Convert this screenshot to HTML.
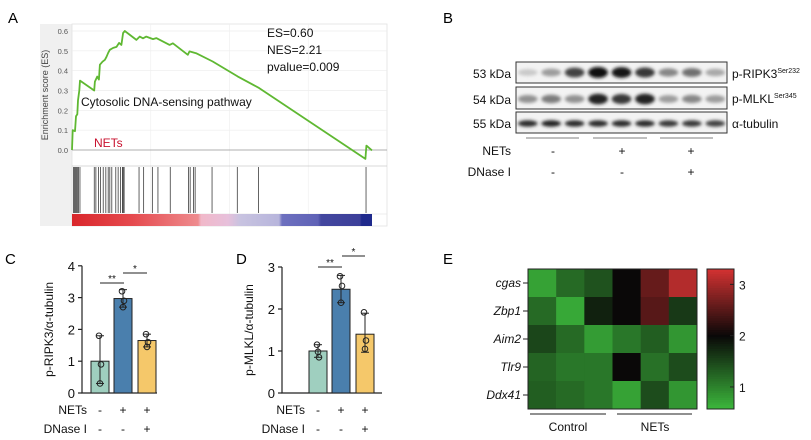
<!DOCTYPE html>
<html><head><meta charset="utf-8"><style>
html,body{margin:0;padding:0;background:#fff;width:811px;height:440px;overflow:hidden}
text{font-family:"Liberation Sans",Arial,sans-serif}
</style></head><body>
<svg id="fig" width="811" height="440" viewBox="0 0 811 440" xmlns="http://www.w3.org/2000/svg">
<defs>
<filter id="blur" x="-30%" y="-80%" width="160%" height="260%"><feGaussianBlur stdDeviation="1.6"/></filter>
<linearGradient id="rankGrad" x1="0" x2="1" y1="0" y2="0">
<stop offset="0" stop-color="#d9262b"/><stop offset="0.2" stop-color="#e54a4e"/><stop offset="0.42" stop-color="#ee8b8e"/>
<stop offset="0.43" stop-color="#f1b8c9"/><stop offset="0.52" stop-color="#e7c0db"/><stop offset="0.56" stop-color="#c8c3e0"/>
<stop offset="0.69" stop-color="#b7b5dc"/><stop offset="0.70" stop-color="#6d70bf"/><stop offset="0.82" stop-color="#5f62b6"/>
<stop offset="0.83" stop-color="#43479f"/><stop offset="0.96" stop-color="#3c3f99"/><stop offset="0.965" stop-color="#1f2a8c"/><stop offset="1" stop-color="#1f2a8c"/>
</linearGradient>
</defs>
<g id="panelA"></g>
<g id="panelB"></g>
<g id="panelC"></g>
<g id="panelD"></g>
<g id="panelE"></g>
</svg>
<script>
// ---- Panel A data ----
const esRank=[0,2,9,12,16,18,22,24,67,69,76,81,84,92,99,104,109,114,124,134,142,149,154,159,194,204,214,224,244,254,294,304,349,354,374,424,499,564,884,887,904];
const esValues=[0,0.10,0.095,0.17,0.18,0.25,0.30,0.35,0.30,0.345,0.37,0.355,0.43,0.445,0.455,0.47,0.49,0.505,0.515,0.52,0.54,0.53,0.59,0.60,0.555,0.572,0.563,0.572,0.559,0.564,0.53,0.538,0.48,0.497,0.488,0.446,0.371,0.312,-0.045,0.022,-0.002];
const hitRanks=[4,7,10,13,16,20,24,67,72,80,86,94,102,109,114,120,132,139,146,152,154,157,202,216,242,259,296,351,356,366,371,422,498,562,886];
const esTicks=[0,0.1,0.2,0.3,0.4,0.5,0.6];
// ---- Panel B data ----
const blotRows=["p-RIPK3","p-MLKL","α-tubulin"];
const blotIntensity=[[0.15,0.35,0.75,1.0,0.95,0.8,0.45,0.55,0.3],[0.4,0.5,0.4,0.9,0.8,0.9,0.35,0.45,0.35],[0.85,0.9,0.85,0.85,0.85,0.85,0.8,0.8,0.75]];
// ---- Panel C data ----
const cMeans=[1.0,2.97,1.65];
const cPoints=[[1.8,0.9,0.3],[3.2,2.9,2.7],[1.85,1.6,1.45]];
const cErrLo=[0.3,2.7,1.45];
const cErrHi=[1.8,3.25,1.85];
const cTicks=[0,1,2,3,4];
// ---- Panel D data ----
const dMeans=[1.0,2.47,1.4];
const dPoints=[[1.15,0.85,0.98],[2.78,2.55,2.15],[1.92,1.25,1.05]];
const dErrLo=[0.85,2.15,0.97];
const dErrHi=[1.15,2.8,1.9];
const dTicks=[0,1,2,3];
// ---- Panel E data ----
const genes=["cgas","Zbp1","Aim2","Tlr9","Ddx41"];
const heatValues=[[0.75,1.2,1.4,2.0,2.6,3.1],[1.2,0.7,1.8,2.0,2.5,1.6],[1.5,1.2,0.8,1.1,1.3,0.85],[1.25,1.1,1.1,2.0,1.15,1.45],[1.3,1.2,1.1,0.75,1.45,0.85]];
const scaleTicks=[1,2,3];

const NS="http://www.w3.org/2000/svg";
function mk(parent,tag,attrs,txt){const e=document.createElementNS(NS,tag);for(const k in attrs)e.setAttribute(k,attrs[k]);if(txt!==undefined)e.textContent=txt;parent.appendChild(e);return e;}
const svg=document.getElementById('fig');

// letters
[["A",8,23],["B",443,23],["C",5,264],["D",236,264],["E",443,264]].forEach(l=>{
 const t=mk(svg,'text',{x:l[1],y:l[2],'font-size':15,fill:'#000'},l[0]);
 
 
});

// ===== Panel A =====
(function(){
 const g=document.getElementById('panelA');
 const L=72,R=387,T=24,B=166,N=904,x1=372;
 const xs=r=>L+(x1-L)*r/N;
 const ys=v=>150-v*(119/0.6);
 mk(g,'rect',{x:40,y:T,width:32,height:202,fill:'#f0f0f0'});
 mk(g,'rect',{x:L,y:T,width:R-L,height:202,fill:'#fff',stroke:'#e2e2e2','stroke-width':0.8});
 // grid
 esTicks.forEach(v=>{mk(g,'line',{x1:L,x2:R,y1:ys(v),y2:ys(v),stroke:'#ececec','stroke-width':0.7});});
 [0.25,0.5,0.75].forEach(f=>mk(g,'line',{x1:L+(R-L)*f,x2:L+(R-L)*f,y1:T,y2:226,stroke:'#efefef','stroke-width':0.7}));
 mk(g,'line',{x1:L,x2:R,y1:ys(0),y2:ys(0),stroke:'#999','stroke-width':0.8});
 mk(g,'line',{x1:L,x2:R,y1:B,y2:B,stroke:'#ccc','stroke-width':0.8});
 mk(g,'line',{x1:L,x2:R,y1:214,y2:214,stroke:'#ddd','stroke-width':0.6});
 esTicks.forEach(v=>{
  const t=mk(g,'text',{x:68,y:ys(v)+3,'font-size':7.5,fill:'#555','text-anchor':'end'},v.toFixed(1));
  
 });
 const yt=mk(g,'text',{x:0,y:0,'font-size':9,fill:'#444','text-anchor':'middle',transform:'translate(48,95) rotate(-90)'},'Enrichment score (ES)');
 
 const pts=esRank.map((r,i)=>xs(r).toFixed(1)+','+ys(esValues[i]).toFixed(1)).join(' ');
 const pl=mk(g,'polyline',{points:pts,fill:'none',stroke:'#5fb832','stroke-width':1.8,'stroke-linejoin':'round'});
 
 hitRanks.forEach(r=>{
  const h=mk(g,'line',{x1:xs(r),x2:xs(r),y1:167,y2:213,stroke:'#222','stroke-width':0.7});
  
 });
 const cb=mk(g,'rect',{x:L,y:214,width:x1-L,height:12,fill:'url(#rankGrad)'});
 
 [['ES=0.60',41],['NES=2.21',58],['pvalue=0.009',75]].forEach(s=>{
  const t=mk(g,'text',{x:267,y:s[1]-4,'font-size':12,fill:'#111'},s[0]);
  
 });
 const pn=mk(g,'text',{x:81,y:106,'font-size':12,fill:'#111'},'Cytosolic DNA-sensing pathway');
 
 const nt=mk(g,'text',{x:94,y:147,'font-size':12,fill:'#c8102e'},'NETs');
 
})();

// ===== Panel B =====
(function(){
 const g=document.getElementById('panelB');
 const L=516,R=727;
 const rowsY=[[62,83],[87,109],[112,133]];
 const kda=["53 kDa","54 kDa","55 kDa"];
 const lw=(R-L)/9;
 rowsY.forEach((ry,ri)=>{
  const box=mk(g,'rect',{x:L,y:ry[0],width:R-L,height:ry[1]-ry[0],fill:'#f3f3f3',stroke:'#333','stroke-width':1});
  
  blotIntensity[ri].forEach((v,li)=>{
   const cx=L+lw*(li+0.5),cy=(ry[0]+ry[1])/2+(ri==0?0:1);
   const gray=Math.round(235-v*225);
   const b=mk(g,'ellipse',{cx:cx,cy:cy,rx:lw*0.42,ry:ri==2?3.2:3+v*2.5,fill:`rgb(${gray},${gray},${gray})`,filter:'url(#blur)'});
   
  });
  const k=mk(g,'text',{x:511,y:ry[1]-5,'font-size':12,fill:'#111','text-anchor':'end'},kda[ri]);
  
 });
 const r1=mk(g,'text',{x:732,y:78,'font-size':12,fill:'#111'});r1.innerHTML='p-RIPK3<tspan font-size="7" dy="-5">Ser232</tspan>';
 
 const r2=mk(g,'text',{x:732,y:103,'font-size':12,fill:'#111'});r2.innerHTML='p-MLKL<tspan font-size="7" dy="-5">Ser345</tspan>';
 
 const r3=mk(g,'text',{x:732,y:128,'font-size':12,fill:'#111'},'α-tubulin');
 
 [[526,579],[593,647],[660,713]].forEach(s=>mk(g,'line',{x1:s[0],x2:s[1],y1:138,y2:138,stroke:'#555','stroke-width':0.8}));
 const n=mk(g,'text',{x:511,y:155,'font-size':12,fill:'#111','text-anchor':'end'},'NETs');
 const d=mk(g,'text',{x:511,y:176,'font-size':12,fill:'#111','text-anchor':'end'},'DNase I');
 [['-','-'],['+','-'],['+','+']].forEach((s,i)=>{
  const x=[553,622,691][i];
  mk(g,'text',{x:x,y:155,'font-size':12,fill:'#111','text-anchor':'middle'},s[0]);
  mk(g,'text',{x:x,y:176,'font-size':12,fill:'#111','text-anchor':'middle'},s[1]);
 });
})();

// ===== Bar panels =====
function barPanel(g,o){
 const ys=v=>o.y0-v*o.ppu;
 const colors=['#9fcfbf','#4a7fad','#f5c86a'];
 const ax=mk(g,'path',{d:`M${o.ax},${ys(o.ticks[o.ticks.length-1])}V${o.y0}H${o.axEnd}`,fill:'none',stroke:'#222','stroke-width':1.2});
 
 o.ticks.forEach(v=>{
  mk(g,'line',{x1:o.ax-4,x2:o.ax,y1:ys(v),y2:ys(v),stroke:'#222','stroke-width':1.2});
  const t=mk(g,'text',{x:o.ax-7,y:ys(v)+5,'font-size':13,fill:'#111','text-anchor':'end'},String(v));
  
 });
 const yl=mk(g,'text',{x:0,y:0,'font-size':12,fill:'#111','text-anchor':'middle',transform:`translate(${o.ax-29},${o.y0-(o.ticks[o.ticks.length-1]*o.ppu)/2}) rotate(-90)`},o.ylabel);
 
 o.means.forEach((m,i)=>{
  const x=o.bx[i],cx=x+9;
  const b=mk(g,'rect',{x:x,y:ys(m),width:18,height:m*o.ppu,fill:colors[i],stroke:'#222','stroke-width':1});
  
  mk(g,'line',{x1:cx,x2:cx,y1:ys(o.lo[i]),y2:ys(o.hi[i]),stroke:'#222','stroke-width':1});
  mk(g,'line',{x1:cx-4,x2:cx+4,y1:ys(o.lo[i]),y2:ys(o.lo[i]),stroke:'#222','stroke-width':1});
  mk(g,'line',{x1:cx-4,x2:cx+4,y1:ys(o.hi[i]),y2:ys(o.hi[i]),stroke:'#222','stroke-width':1});
  o.pts[i].forEach((p,j)=>{
   const c=mk(g,'circle',{cx:cx+[-1,1,0][j],cy:ys(p),r:2.8,fill:'none',stroke:'#222','stroke-width':1});
   
  });
 });
 [[o.sig1,'**'],[o.sig2,'*']].forEach(s=>{
  mk(g,'line',{x1:s[0][0],x2:s[0][1],y1:s[0][2],y2:s[0][2],stroke:'#222','stroke-width':1});
  mk(g,'text',{x:(s[0][0]+s[0][1])/2,y:s[0][2]-1,'font-size':10,fill:'#111','text-anchor':'middle'},s[1]);
 });
 const n=mk(g,'text',{x:o.lblX,y:o.y0+21,'font-size':12,fill:'#111','text-anchor':'end'},'NETs');
 const d=mk(g,'text',{x:o.lblX,y:o.y0+40,'font-size':12,fill:'#111','text-anchor':'end'},'DNase I');
 [['-','-'],['+','-'],['+','+']].forEach((s,i)=>{
  mk(g,'text',{x:o.bx[i]+9,y:o.y0+21,'font-size':12,fill:'#111','text-anchor':'middle'},s[0]);
  mk(g,'text',{x:o.bx[i]+9,y:o.y0+40,'font-size':12,fill:'#111','text-anchor':'middle'},s[1]);
 });
}
barPanel(document.getElementById('panelC'),{ax:82,axEnd:157,y0:393,ppu:31.8,ticks:cTicks,means:cMeans,pts:cPoints,lo:cErrLo,hi:cErrHi,bx:[91,114,138],ylabel:'p-RIPK3/α-tubulin',sig1:[100,124,283],sig2:[123,147,273],lblX:87});
barPanel(document.getElementById('panelD'),{ax:282,axEnd:382,y0:393,ppu:42,ticks:dTicks,means:dMeans,pts:dPoints,lo:dErrLo,hi:dErrHi,bx:[309,332,356],ylabel:'p-MLKL/α-tubulin',sig1:[318,342,267],sig2:[342,365,256],lblX:305});

// ===== Panel E =====
(function(){
 const g=document.getElementById('panelE');
 const L=528,T=269,cw=(697-528)/6,rh=(409-269)/5;
 const vmin=0.57,vmax=3.3,vmid=2.0;
 function col(v){
  const G=[60,184,60],K=[10,8,8],Rd=[210,50,50];
  let a,b,t;
  if(v<=vmid){a=G;b=K;t=(v-vmin)/(vmid-vmin);}else{a=K;b=Rd;t=(v-vmid)/(vmax-vmid);}
  t=Math.max(0,Math.min(1,t));
  return 'rgb('+a.map((c,i)=>Math.round(c+(b[i]-c)*t)).join(',')+')';
 }
 heatValues.forEach((row,ri)=>{
  row.forEach((v,ci)=>{
   const c=mk(g,'rect',{x:L+ci*cw,y:T+ri*rh,width:cw+0.3,height:rh+0.3,fill:col(v)});
   
  });
  const yc=T+(ri+0.5)*rh;
  mk(g,'line',{x1:523,x2:528,y1:yc,y2:yc,stroke:'#222','stroke-width':1});
  const t=mk(g,'text',{x:521,y:yc+4,'font-size':12,'font-style':'italic',fill:'#111','text-anchor':'end'},genes[ri]);
  
 });
 mk(g,'rect',{x:L,y:T,width:697-L,height:409-T,fill:'none',stroke:'#222','stroke-width':1});
 // color scale
 const sg=mk(g,'g',{});
 const n=60;
 for(let i=0;i<n;i++){
  const v=vmin+(vmax-vmin)*(i+0.5)/n;
  const yy=409-(i+1)*(140/n);
  mk(sg,'rect',{x:707,y:yy,width:27,height:140/n+0.4,fill:col(v)});
 }
 mk(sg,'rect',{x:707,y:269,width:27,height:140,fill:'none',stroke:'#222','stroke-width':1});
 scaleTicks.forEach(v=>{
  const yy=409-(v-vmin)/(vmax-vmin)*140;
  mk(sg,'line',{x1:730,x2:734,y1:yy,y2:yy,stroke:'#222','stroke-width':1});
  const t=mk(sg,'text',{x:739,y:yy+5,'font-size':12,fill:'#111'},String(v));
  
 });
 mk(g,'line',{x1:530,x2:606,y1:414,y2:414,stroke:'#222','stroke-width':1});
 mk(g,'line',{x1:617,x2:692,y1:414,y2:414,stroke:'#222','stroke-width':1});
 const c1=mk(g,'text',{x:568,y:431,'font-size':12,fill:'#111','text-anchor':'middle'},'Control');
 const c2=mk(g,'text',{x:655,y:431,'font-size':12,fill:'#111','text-anchor':'middle'},'NETs');
})();
</script>
</body></html>
